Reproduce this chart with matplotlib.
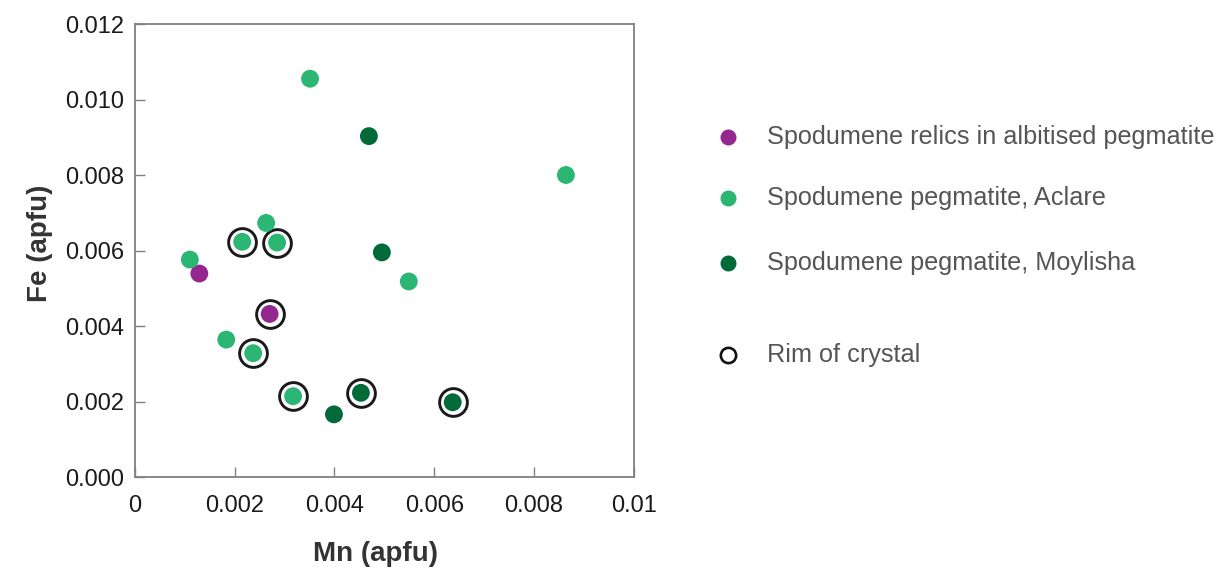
import matplotlib
matplotlib.use("Agg")
import matplotlib.pyplot as plt
from matplotlib.lines import Line2D

plt.rcParams['font.family'] = ['Liberation Sans', 'DejaVu Sans']

# Spodumene relics in albitised pegmatite
relic_mn = [0.00129, 0.00270]
relic_fe = [0.00539, 0.00432]
relic_rim = [False, True]

# Spodumene pegmatite, Aclare
aclare_mn = [0.00351, 0.00864, 0.00263, 0.00215, 0.00285, 0.00110, 0.00549, 0.00183, 0.00237, 0.00317]
aclare_fe = [0.01055, 0.00800, 0.00673, 0.00623, 0.00621, 0.00576, 0.00518, 0.00364, 0.00328, 0.00214]
aclare_rim = [False, False, False, True, True, False, False, False, True, True]

# Spodumene pegmatite, Moylisha
moy_mn = [0.00469, 0.00495, 0.00399, 0.00453, 0.00637]
moy_fe = [0.00903, 0.00595, 0.00166, 0.00223, 0.00198]
moy_rim = [False, False, False, True, True]

purple = '#93278f'
light_green = '#2bb673'
dark_green = '#006b38'

groups = [
    ('Spodumene relics in albitised pegmatite', relic_mn, relic_fe, relic_rim, purple),
    ('Spodumene pegmatite, Aclare', aclare_mn, aclare_fe, aclare_rim, light_green),
    ('Spodumene pegmatite, Moylisha', moy_mn, moy_fe, moy_rim, dark_green),
]

fig = plt.figure(figsize=(12.27, 5.77), dpi=100)
ax = fig.add_axes([0.110, 0.1733, 0.4065, 0.7851])

for label, mn, fe, rim, color in groups:
    rx = [x for x, r in zip(mn, rim) if r]
    ry = [y for y, r in zip(fe, rim) if r]
    ax.scatter(rx, ry, s=400, facecolor='white', edgecolor='#1a1a1a', linewidth=2.1, zorder=2)
    ax.scatter(mn, fe, s=165, color=color, edgecolor='none', zorder=3)

ax.set_xlim(0, 0.01)
ax.set_ylim(0, 0.012)
ax.set_xticks([0, 0.002, 0.004, 0.006, 0.008, 0.01])
ax.set_xticklabels(['0', '0.002', '0.004', '0.006', '0.008', '0.01'])
ax.set_yticks([0, 0.002, 0.004, 0.006, 0.008, 0.010, 0.012])
ax.set_yticklabels(['0.000', '0.002', '0.004', '0.006', '0.008', '0.010', '0.012'])
ax.tick_params(direction='in', length=7, width=1, color='#808080', labelsize=17,
               labelcolor='#1a1a1a', pad=8)
ax.tick_params(axis='x', pad=13)
for sp in ax.spines.values():
    sp.set_color('#808080')
    sp.set_linewidth(1.3)

ax.set_xlabel('Mn (apfu)', fontsize=20, fontweight='bold', color='#333333')
ax.set_ylabel('Fe (apfu)', fontsize=20, fontweight='bold', color='#333333')
ax.xaxis.set_label_coords(0.482, -0.141)
ax.yaxis.set_label_coords(-0.165, 0.516)

# legend drawn by hand
W, H = 1227, 577
leg_y = [137, 198, 263]
for (label, mn, fe, rim, color), y in zip(groups, leg_y):
    fig.add_artist(Line2D([728 / W], [1 - y / H], marker='o', markersize=11.5,
                          color=color, markeredgecolor='none', linestyle='none'))
    fig.text(767 / W, 1 - y / H, label, fontsize=18.2, color='#555555', va='center')
fig.add_artist(Line2D([728 / W], [1 - 355 / H], marker='o', markersize=11,
                      markerfacecolor='white', markeredgecolor='#111111',
                      markeredgewidth=1.9, linestyle='none'))
fig.text(767 / W, 1 - 355 / H, 'Rim of crystal', fontsize=18.2, color='#555555', va='center')

fig.savefig('out.png', dpi=100)
